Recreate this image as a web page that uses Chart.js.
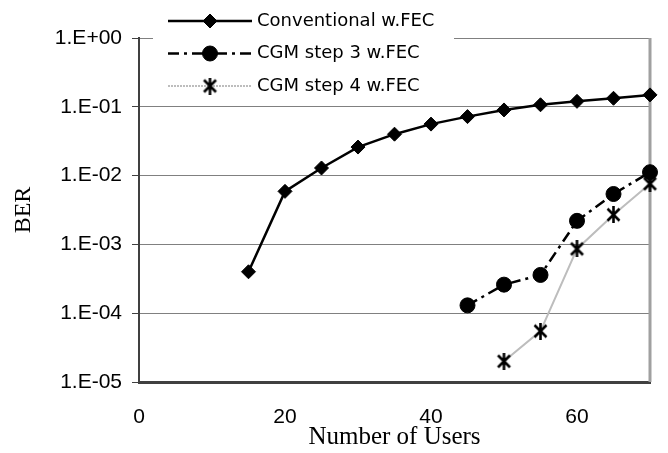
<!DOCTYPE html>
<html><head><meta charset="utf-8">
<script src="https://cdn.jsdelivr.net/npm/chart.js@4/dist/chart.umd.min.js"></script>
<style>html,body{margin:0;padding:0;background:#fff;}</style>
</head><body>
<canvas id="c" width="668" height="453"></canvas>
<script>
// ---- data ----
const users = [15, 20, 25, 30, 35, 40, 45, 50, 55, 60, 65, 70];
const conventional = [4.0e-4, 5.9e-3, 1.29e-2, 2.6e-2, 4.0e-2, 5.6e-2, 7.2e-2, 9.0e-2, 1.07e-1, 1.2e-1, 1.33e-1, 1.49e-1];
const cgm3Users = [45, 50, 55, 60, 65, 70];
const cgm3 = [1.3e-4, 2.6e-4, 3.6e-4, 2.2e-3, 5.4e-3, 1.12e-2];
const cgm4Users = [50, 55, 60, 65, 70];
const cgm4 = [2.0e-5, 5.5e-5, 8.6e-4, 2.7e-3, 7.6e-3];
const xTicks = [0, 20, 40, 60];
const yTicks = [1, 1e-1, 1e-2, 1e-3, 1e-4, 1e-5];
const yTickLabels = ['1.E+00', '1.E-01', '1.E-02', '1.E-03', '1.E-04', '1.E-05'];
const seriesNames = ['Conventional w.FEC', 'CGM step 3 w.FEC', 'CGM step 4 w.FEC'];
const xTitle = 'Number of Users';
const yTitle = 'BER';

// asterisk marker (X with a vertical bar)
const asterisk = (() => {
  const s = 17, c = document.createElement('canvas');
  c.width = s; c.height = s;
  const g = c.getContext('2d');
  g.strokeStyle = '#000'; g.lineWidth = 2.6;
  g.beginPath();
  g.moveTo(2.5, 2.5); g.lineTo(s - 2.5, s - 2.5);
  g.moveTo(s - 2.5, 2.5); g.lineTo(2.5, s - 2.5);
  g.moveTo(s / 2, 0); g.lineTo(s / 2, s);
  g.stroke();
  return c;
})();

const pts = (xs, ys) => xs.map((x, i) => ({ x, y: ys[i] }));

const frame = {
  id: 'frame',
  beforeDatasetsDraw(chart) {
    const { ctx, chartArea: a } = chart;
    ctx.save();
    ctx.strokeStyle = '#a0a0a0'; ctx.lineWidth = 3;
    ctx.beginPath(); ctx.moveTo(a.right, a.top); ctx.lineTo(a.right, a.bottom); ctx.stroke();
    ctx.restore();
  }
};

const insetLegend = {
  id: 'insetLegend',
  afterDraw(chart) {
    const { ctx } = chart;
    ctx.save();
    ctx.fillStyle = '#fff';
    ctx.fillRect(153, 2, 301, 100);
    chart.data.datasets.forEach((ds, i) => {
      const y = 21 + i * 32.5;
      ctx.strokeStyle = ds.borderColor; ctx.lineWidth = ds.borderWidth;
      ctx.setLineDash(ds.legendDash || ds.borderDash || []);
      ctx.beginPath(); ctx.moveTo(168, y); ctx.lineTo(252, y); ctx.stroke();
      ctx.setLineDash([]);
      ctx.fillStyle = ds.pointBackgroundColor; ctx.strokeStyle = ds.pointBorderColor;
      ctx.lineWidth = ds.pointBorderWidth;
      Chart.helpers.drawPoint(ctx, { pointStyle: ds.pointStyle, radius: ds.pointRadius, borderWidth: ds.pointBorderWidth, rotation: 0 }, 210, y);
      ctx.fillStyle = '#000';
      ctx.font = '18px "DejaVu Sans"';
      ctx.textBaseline = 'middle'; ctx.textAlign = 'left';
      ctx.fillText(ds.label, 257, y);
    });
    ctx.restore();
  }
};

new Chart(document.getElementById('c'), {
  type: 'line',
  data: {
    datasets: [
      { label: seriesNames[0], data: pts(users, conventional), borderColor: '#000', borderWidth: 2.5,
        pointStyle: 'rectRot', pointRadius: 7, pointBackgroundColor: '#000', pointBorderColor: '#000', pointBorderWidth: 1, clip: false },
      { label: seriesNames[1], data: pts(cgm3Users, cgm3), borderColor: '#000', borderWidth: 2.5, borderDash: [11, 5, 3, 5],
        pointStyle: 'circle', pointRadius: 7.5, pointBackgroundColor: '#000', pointBorderColor: '#000', pointBorderWidth: 1, clip: false },
      { label: seriesNames[2], data: pts(cgm4Users, cgm4), borderColor: '#bdbdbd', borderWidth: 2, legendDash: [2, 1],
        pointStyle: asterisk, pointRadius: 8, pointBackgroundColor: '#000', pointBorderColor: '#000', pointBorderWidth: 0, clip: false }
    ]
  },
  options: {
    responsive: false, animation: false,
    layout: { padding: { top: 38, right: 18, left: 0, bottom: 0 } },
    plugins: { legend: { display: false }, tooltip: { enabled: false } },
    scales: {
      x: {
        type: 'linear', min: 0, max: 70,
        afterBuildTicks: s => { s.ticks = xTicks.map(v => ({ value: v })); },
        afterFit: s => { s.height = 71; },
        grid: { display: false, drawTicks: false },
        border: { display: true, color: '#404040', width: 3 },
        ticks: { font: { family: '"Liberation Sans", Arial', size: 21 }, color: '#000', padding: 23, maxRotation: 0 },
        title: { display: true, text: xTitle, font: { family: '"Liberation Serif", "Times New Roman"', size: 25 }, color: '#000', padding: { top: 0, bottom: 1 } }
      },
      y: {
        type: 'logarithmic', min: 1e-5, max: 1,
        afterBuildTicks: s => { s.ticks = yTicks.map(v => ({ value: v })); },
        afterFit: s => { s.width = 139; },
        grid: { color: '#808080', lineWidth: 1, drawTicks: true, tickLength: 7, tickColor: '#404040' },
        border: { display: true, color: '#404040', width: 2 },
        ticks: { callback: v => yTickLabels[yTicks.indexOf(v)], font: { family: '"Liberation Sans", Arial', size: 21 }, color: '#000', padding: 10 },
        title: { display: true, text: yTitle, font: { family: '"Liberation Serif", "Times New Roman"', size: 24 }, color: '#000', padding: { top: 9, bottom: 0 } }
      }
    }
  },
  plugins: [frame, insetLegend]
});
</script>
</body></html>
